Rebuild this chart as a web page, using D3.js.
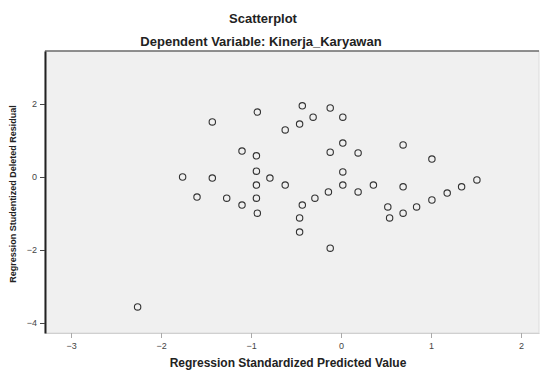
<!DOCTYPE html>
<html>
<head>
<meta charset="utf-8">
<script src="https://cdn.jsdelivr.net/npm/d3@7"></script>
<style>
  body { margin: 0; background: #ffffff; }
  text { font-family: "Liberation Sans", Arial, sans-serif; }
</style>
</head>
<body>
<svg id="chart" width="546" height="371"></svg>
<script>
// predicted values (x) and deleted residuals (y)
var predicted = [-2.26, -0.12, -1.43, -0.93, -0.43, -0.31, -0.12, 0.02, -0.62, -0.46,
                 -1.10, -0.94, -1.76, -1.43, -0.94, -0.79, -0.62, -0.94, -1.60, -1.27,
                 -1.10, -0.94, -0.93, 0.02, -0.12, 0.19, 0.69, 1.01, 0.02, 0.02,
                 -0.14, -0.29, -0.43, 0.19, 0.36, 0.69, 0.52, 0.54, 0.69, 0.84,
                 1.01, 1.18, 1.34, 1.51, -0.46, -0.46];
var residuals = [-3.56, -1.95, 1.51, 1.78, 1.95, 1.64, 1.89, 1.64, 1.29, 1.45,
                 0.71, 0.58, 0.00, -0.03, 0.16, -0.03, -0.22, -0.22, -0.55, -0.58,
                 -0.77, -0.58, -0.99, 0.93, 0.68, 0.66, 0.88, 0.49, 0.14, -0.22,
                 -0.41, -0.58, -0.77, -0.41, -0.22, -0.27, -0.82, -1.12, -0.99, -0.82,
                 -0.63, -0.44, -0.27, -0.08, -1.12, -1.51];
var xTicks = [-3, -2, -1, 0, 1, 2];
var yTicks = [2, 0, -2, -4];

var svg = d3.select("#chart");
var plotLeft = 45, plotTop = 51, plotRight = 539, plotBottom = 333;

var x = d3.scaleLinear().domain([-3.289, 2.2]).range([plotLeft, plotRight]);
var y = d3.scaleLinear().domain([3.452, -4.274]).range([plotTop, plotBottom]);

// titles
svg.append("text").attr("x", 263).attr("y", 23)
	.attr("text-anchor", "middle").attr("font-size", 13).attr("font-weight", "bold")
	.attr("fill", "#222").text("Scatterplot");
svg.append("text").attr("x", 261).attr("y", 46)
	.attr("text-anchor", "middle").attr("font-size", 13).attr("font-weight", "bold")
	.attr("fill", "#222").text("Dependent Variable: Kinerja_Karyawan");

// plot area
svg.append("rect")
	.attr("x", plotLeft).attr("y", plotTop)
	.attr("width", plotRight - plotLeft).attr("height", plotBottom - plotTop)
	.attr("fill", "#f0f0f0").attr("stroke", "#dcdcdc");
svg.append("line").attr("x1", plotLeft).attr("x2", plotRight).attr("y1", plotTop).attr("y2", plotTop)
	.attr("stroke", "#333").attr("stroke-width", 1.2);

// axes
var xAxis = svg.append("g").attr("transform", "translate(0," + plotBottom + ")")
	.call(d3.axisBottom(x).tickValues(xTicks).tickSize(5).tickSizeOuter(0).tickFormat(d3.format("d")));
xAxis.select(".domain").attr("stroke", "#d0d0d0");
xAxis.selectAll(".tick line").attr("stroke", "#aaa");
xAxis.selectAll(".tick text").attr("font-size", 9).attr("fill", "#444").attr("dy", "0.9em");

var yAxis = svg.append("g").attr("transform", "translate(" + plotLeft + ",0)")
	.call(d3.axisLeft(y).tickValues(yTicks).tickSize(5).tickSizeOuter(0).tickFormat(d3.format("d")));
yAxis.select(".domain").attr("stroke", "#222").attr("stroke-width", 2);
yAxis.selectAll(".tick line").attr("stroke", "#444");
yAxis.selectAll(".tick text").attr("font-size", 9).attr("fill", "#444");

// axis titles
svg.append("text").attr("x", 288).attr("y", 367)
	.attr("text-anchor", "middle").attr("font-size", 12).attr("font-weight", "bold")
	.attr("fill", "#222").text("Regression Standardized Predicted Value");
svg.append("text")
	.attr("transform", "translate(16,194) rotate(-90)")
	.attr("text-anchor", "middle").attr("font-size", 9).attr("font-weight", "bold")
	.attr("fill", "#222").text("Regression Studentized Deleted Residual");

// points
var points = predicted.map(function(v, i){ return {x: v, y: residuals[i]}; });
svg.append("g").selectAll("circle")
	.data(points)
	.enter().append("circle")
	.attr("cx", function(d){ return x(d.x); })
	.attr("cy", function(d){ return y(d.y); })
	.attr("r", 3.2)
	.attr("fill", "none")
	.attr("stroke", "#333")
	.attr("stroke-width", 1.1);
</script>
</body>
</html>
